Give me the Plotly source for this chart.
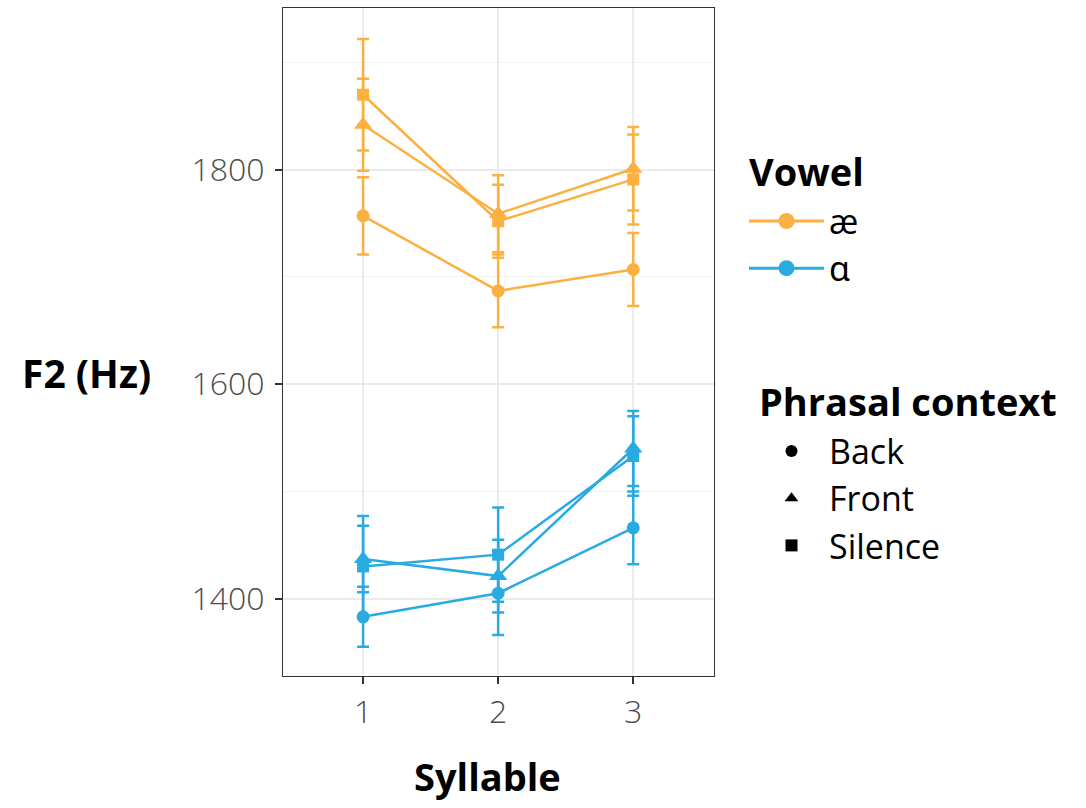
import plotly.graph_objects as go

syllables = [1, 2, 3]
vowels = ["æ", "ɑ"]
contexts = ["Back", "Front", "Silence"]

# F2 means (Hz) per vowel / context across syllables 1..3
ae_back = [1757, 1687, 1707]
ae_front = [1842, 1759, 1801]
ae_silence = [1870, 1752, 1791]
aa_back = [1383, 1405, 1466]
aa_front = [1437, 1421, 1540]
aa_silence = [1430, 1441, 1533]

# error bar half-widths (Hz)
ae_back_err = [36, 34, 34]
ae_front_err = [43, 36, 39]
ae_silence_err = [52, 34, 42]
aa_back_err = [28, 39, 34]
aa_front_err = [31, 34, 35]
aa_silence_err = [47, 44, 37]

y_tickvals = [1400, 1600, 1800]
x_tickvals = [1, 2, 3]

colors = {"æ": "#FBB040", "ɑ": "#29ABE2"}
symbols = {"Back": "circle", "Front": "triangle-up", "Silence": "square"}
sizes = {"Back": 13, "Front": 16, "Silence": 12}

series = {
    ("æ", "Back"): (ae_back, ae_back_err),
    ("æ", "Front"): (ae_front, ae_front_err),
    ("æ", "Silence"): (ae_silence, ae_silence_err),
    ("ɑ", "Back"): (aa_back, aa_back_err),
    ("ɑ", "Front"): (aa_front, aa_front_err),
    ("ɑ", "Silence"): (aa_silence, aa_silence_err),
}

FONT = "Open Sans, Noto Sans, DejaVu Sans, sans-serif"
fig = go.Figure()

for (v, c), (vals, errs) in series.items():
    fig.add_trace(go.Scatter(
        x=syllables, y=vals, mode="lines+markers",
        line=dict(color=colors[v], width=2.5),
        marker=dict(symbol=symbols[c], size=sizes[c], color=colors[v]),
        error_y=dict(type="data", array=errs, visible=True, color=colors[v],
                     thickness=2.5, width=6),
        showlegend=False, hoverinfo="x+y",
    ))

# Legend: Vowel
for i, v in enumerate(vowels):
    fig.add_trace(go.Scatter(
        x=[None], y=[None], mode="lines+markers", name=v,
        line=dict(color=colors[v], width=3),
        marker=dict(symbol="circle", size=16, color=colors[v]),
        legend="legend",
        legendgroup="vowel",
        legendgrouptitle=dict(text="Vowel") if i == 0 else None,
    ))

# Legend: Phrasal context
for i, c in enumerate(contexts):
    fig.add_trace(go.Scatter(
        x=[None], y=[None], mode="markers", name=c,
        marker=dict(symbol=symbols[c], size=12, color="black"),
        legend="legend2",
        legendgroup="ctx",
        legendgrouptitle=dict(text="Phrasal context") if i == 0 else None,
    ))

fig.update_layout(
    width=1086, height=808,
    margin=dict(l=283, r=372, t=8, b=132),
    paper_bgcolor="white", plot_bgcolor="white",
    font=dict(family=FONT, color="black"),
    xaxis=dict(
        range=[0.407, 3.598], tickvals=x_tickvals, ticktext=[str(t) for t in x_tickvals],
        showgrid=True, gridcolor="#EBEBEB", gridwidth=1.6,
        showline=True, mirror=True, linecolor="#333333", linewidth=1.3,
        ticks="outside", ticklen=7, tickwidth=1.5, tickcolor="#333333",
        tickfont=dict(family=FONT, size=32, color="#4D4D4D", weight=300),
        zeroline=False,
    ),
    yaxis=dict(
        range=[1327.8, 1950.9], tickvals=y_tickvals, ticktext=[str(t) for t in y_tickvals],
        showgrid=True, gridcolor="#EBEBEB", gridwidth=1.6,
        minor=dict(dtick=100, tick0=1300, showgrid=True, gridcolor="#F2F2F2", gridwidth=1, ticks=""),
        showline=True, mirror=True, linecolor="#333333", linewidth=1.3,
        ticks="outside", ticklen=7, tickwidth=1.5, tickcolor="#333333",
        tickfont=dict(family=FONT, size=32, color="#4D4D4D", weight=300),
        ticklabelstandoff=4,
        zeroline=False,
    ),
    legend=dict(
        x=744 / 1086, xanchor="left", y=1 - 140 / 808, yanchor="top",
        xref="container", yref="container",
        font=dict(family=FONT, size=34, color="black"),
        grouptitlefont=dict(family=FONT, size=38, color="black", weight="bold"),
        bgcolor="rgba(0,0,0,0)", itemwidth=75, tracegroupgap=0,
    ),
    legend2=dict(
        x=754 / 1086, xanchor="left", y=1 - 370 / 808, yanchor="top",
        xref="container", yref="container",
        font=dict(family=FONT, size=34, color="black"),
        grouptitlefont=dict(family=FONT, size=38, color="black", weight="bold"),
        bgcolor="rgba(0,0,0,0)", itemwidth=65, tracegroupgap=0,
    ),
    annotations=[
        dict(text="F2 (Hz)", xref="paper", yref="paper",
             x=(20 - 283) / 431, y=(676 - 373) / 668, xanchor="left", yanchor="middle",
             showarrow=False, font=dict(family=FONT, size=39, color="black", weight="bold")),
        dict(text="Syllable", xref="paper", yref="paper",
             x=(487 - 283) / 431, y=(676 - 776) / 668, xanchor="center", yanchor="middle",
             showarrow=False, font=dict(family=FONT, size=38, color="black", weight="bold")),
    ],
)

fig.write_html("out.html")
